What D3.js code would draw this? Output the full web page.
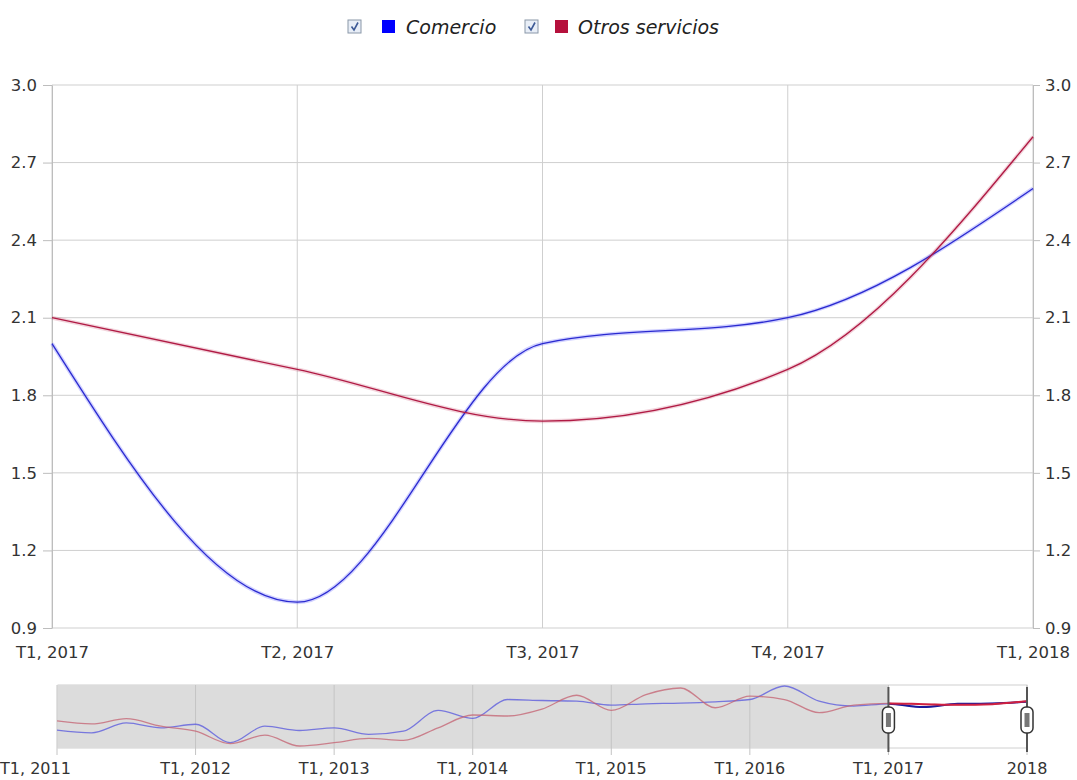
<!DOCTYPE html>
<html>
<head>
<meta charset="utf-8">
<script src="https://cdn.jsdelivr.net/npm/d3@7"></script>
<style>
  html, body { margin: 0; padding: 0; background: #fff; }
  svg { display: block; font-family: "DejaVu Sans", Verdana, sans-serif; }
</style>
</head>
<body>
<svg id="chart" width="1077" height="780"></svg>
<script>
// ---------- DATA ----------
const quarters = [
  "T1, 2011","T2, 2011","T3, 2011","T4, 2011",
  "T1, 2012","T2, 2012","T3, 2012","T4, 2012",
  "T1, 2013","T2, 2013","T3, 2013","T4, 2013",
  "T1, 2014","T2, 2014","T3, 2014","T4, 2014",
  "T1, 2015","T2, 2015","T3, 2015","T4, 2015",
  "T1, 2016","T2, 2016","T3, 2016","T4, 2016",
  "T1, 2017","T2, 2017","T3, 2017","T4, 2017",
  "T1, 2018"
];
const comercio = [
  -6.0, -6.8, -3.8, -5.3,
  -4.2, -9.8, -4.8, -6.1,
  -5.3, -7.3, -6.3, 0.0,
  -2.4, 3.3, 3.0, 2.8,
  1.6, 2.0, 2.2, 2.6,
  3.3, 7.4, 2.8, 1.3,
  2.0, 1.0, 2.0, 2.1,
  2.6
];
const otrosServicios = [
  -3.2, -4.1, -2.5, -4.8,
  -6.3, -10.1, -7.5, -10.8,
  -9.8, -8.5, -9.1, -5.3,
  -1.4, -1.7, 0.4, 4.6,
  0.0, 4.8, 6.8, 0.8,
  4.3, 3.3, -0.7, 1.6,
  2.1, 1.9, 1.7, 1.9,
  2.8
];
const seriesNames = ["Comercio", "Otros servicios"];
const seriesColors = ["#0000ff", "#b5103c"];
const yTicks = [0.9, 1.2, 1.5, 1.8, 2.1, 2.4, 2.7, 3.0];
const selStart = 24; // T1, 2017
const selEnd = 28;   // T1, 2018
const navTickLabels = ["T1, 2011","T1, 2012","T1, 2013","T1, 2014","T1, 2015","T1, 2016","T1, 2017","2018"];

// ---------- SETUP ----------
const svg = d3.select("#chart");
const seriesData = [comercio, otrosServicios];
const FONT = 16.5;
const textColor = "#333";
const gridColor = "#cfcfcf";

const plot = { left: 52, right: 1033, top: 85, bottom: 628 };

const mainCats = quarters.slice(selStart, selEnd + 1);
const x = d3.scalePoint().domain(mainCats).range([plot.left, plot.right]);
const y = d3.scaleLinear().domain([0.9, 3.0]).range([plot.bottom, plot.top]);

// gridlines
const g = svg.append("g");
g.selectAll("line.hg").data(yTicks).join("line")
  .attr("x1", plot.left).attr("x2", plot.right)
  .attr("y1", d => y(d)).attr("y2", d => y(d))
  .attr("stroke", gridColor).attr("stroke-width", 1);
g.selectAll("line.vg").data(mainCats).join("line")
  .attr("x1", d => x(d)).attr("x2", d => x(d))
  .attr("y1", plot.top).attr("y2", plot.bottom)
  .attr("stroke", gridColor).attr("stroke-width", 1);

// axes
const styleAxis = sel => {
  sel.selectAll(".domain").attr("stroke", "#bdbdbd");
  sel.selectAll(".tick line").attr("stroke", "#bdbdbd");
  sel.selectAll("text").attr("fill", textColor).style("font-size", FONT + "px")
    .style("font-family", '"DejaVu Sans", Verdana, sans-serif');
};
svg.append("g").attr("transform", `translate(${plot.left},0)`)
  .call(d3.axisLeft(y).tickValues(yTicks).tickFormat(d3.format(".1f")).tickSizeInner(9).tickSizeOuter(0).tickPadding(6))
  .call(styleAxis);
svg.append("g").attr("transform", `translate(${plot.right},0)`)
  .call(d3.axisRight(y).tickValues(yTicks).tickFormat(d3.format(".1f")).tickSizeInner(7).tickSizeOuter(0).tickPadding(5))
  .call(styleAxis);
svg.append("g").attr("transform", `translate(0,${plot.bottom})`)
  .call(d3.axisBottom(x).tickSize(0).tickPadding(18))
  .call(styleAxis)
  .call(s => s.select(".domain").remove());

// main lines
const mainLine = d3.line().x((d, i) => x(mainCats[i])).y(d => y(d)).curve(d3.curveMonotoneX);
seriesData.forEach((s, k) => {
  const vals = s.slice(selStart, selEnd + 1);
  svg.append("path").attr("d", mainLine(vals)).attr("fill", "none")
    .attr("stroke", seriesColors[k]).attr("stroke-opacity", 0.18).attr("stroke-width", 4);
  svg.append("path").attr("d", mainLine(vals)).attr("fill", "none")
    .attr("stroke", k === 0 ? "#2a2ad0" : "#b01a44").attr("stroke-width", 1.3);
});

// ---------- LEGEND ----------
const legend = svg.append("g");
const legendItems = [
  { name: seriesNames[0], color: seriesColors[0], cb: 348, sq: 382, tx: 406 },
  { name: seriesNames[1], color: seriesColors[1], cb: 525, sq: 555, tx: 578 }
];
legendItems.forEach(it => {
  const cy = 27;
  legend.append("rect").attr("x", it.cb).attr("y", cy - 7).attr("width", 13).attr("height", 13)
    .attr("fill", "#e8eef7").attr("stroke", "#8a97a8").attr("stroke-width", 1);
  legend.append("path")
    .attr("d", `M${it.cb + 3.5},${cy - 0.5} L${it.cb + 6},${cy + 3} L${it.cb + 10},${cy - 4.5}`)
    .attr("fill", "none").attr("stroke", "#3d5a96").attr("stroke-width", 1.6);
  legend.append("rect").attr("x", it.sq).attr("y", cy - 7).attr("width", 13).attr("height", 13)
    .attr("fill", it.color);
  legend.append("text").attr("x", it.tx).attr("y", cy + 6.5)
    .attr("fill", "#222").style("font-size", "19px").style("font-style", "italic")
    .text(it.name);
});

// ---------- NAVIGATOR ----------
const nav = { left: 58, right: 1027, top: 685, bottom: 748 };
const nx = d3.scalePoint().domain(quarters).range([57, 1027]);
const allVals = comercio.concat(otrosServicios);
const ny = d3.scaleLinear().domain(d3.extent(allVals)).range([746, 686]);

const ng = svg.append("g");
// background
ng.append("rect").attr("x", nav.left).attr("y", nav.top)
  .attr("width", nav.right - nav.left).attr("height", nav.bottom - nav.top)
  .attr("fill", "#fff").attr("stroke", "#d0d0d0");
ng.append("rect").attr("x", nav.left).attr("y", nav.top)
  .attr("width", nx(quarters[selStart]) - nav.left).attr("height", nav.bottom - nav.top)
  .attr("fill", "#dcdcdc");

// year gridlines + labels
const yearIdx = [0, 4, 8, 12, 16, 20, 24, 28];
ng.selectAll("line.ng").data(yearIdx).join("line")
  .attr("x1", d => nx(quarters[d])).attr("x2", d => nx(quarters[d]))
  .attr("y1", nav.top).attr("y2", 755)
  .attr("stroke", "#c4c4c4").attr("stroke-width", 1);
ng.selectAll("text.nl").data(yearIdx).join("text")
  .attr("x", (d, i) => i === 0 ? 0 : nx(quarters[d]))
  .attr("y", 774)
  .attr("text-anchor", (d, i) => i === 0 ? "start" : "middle")
  .attr("fill", textColor).style("font-size", "16px")
  .text((d, i) => navTickLabels[i]);

// navigator lines
const navLine = d3.line().x((d, i) => nx(quarters[i])).y(d => ny(d)).curve(d3.curveMonotoneX);
const defs = svg.append("defs");
defs.append("clipPath").attr("id", "selClip").append("rect")
  .attr("x", nx(quarters[selStart])).attr("y", nav.top)
  .attr("width", nx(quarters[selEnd]) - nx(quarters[selStart]) + 2).attr("height", nav.bottom - nav.top);
seriesData.forEach((s, k) => {
  ng.append("path").attr("d", navLine(s)).attr("fill", "none")
    .attr("stroke", k === 0 ? "#5555dd" : "#c46070").attr("stroke-opacity", 0.75).attr("stroke-width", 1.3);
});
seriesData.forEach((s, k) => {
  ng.append("path").attr("d", navLine(s)).attr("fill", "none").attr("clip-path", "url(#selClip)")
    .attr("stroke", k === 0 ? "#1a1a9a" : "#d02040").attr("stroke-width", 2);
});

// grips
[selStart, selEnd].forEach(i => {
  const gx = nx(quarters[i]);
  ng.append("line").attr("x1", gx).attr("x2", gx).attr("y1", nav.top + 2).attr("y2", 752)
    .attr("stroke", "#555").attr("stroke-width", 2);
  ng.append("rect").attr("x", gx - 6).attr("y", 707).attr("width", 12).attr("height", 26)
    .attr("rx", 5).attr("fill", "#fff").attr("stroke", "#333").attr("stroke-width", 1.5);
  ng.append("rect").attr("x", gx - 2.5).attr("y", 713).attr("width", 5).attr("height", 14)
    .attr("fill", "#777");
});
</script>
</body>
</html>
